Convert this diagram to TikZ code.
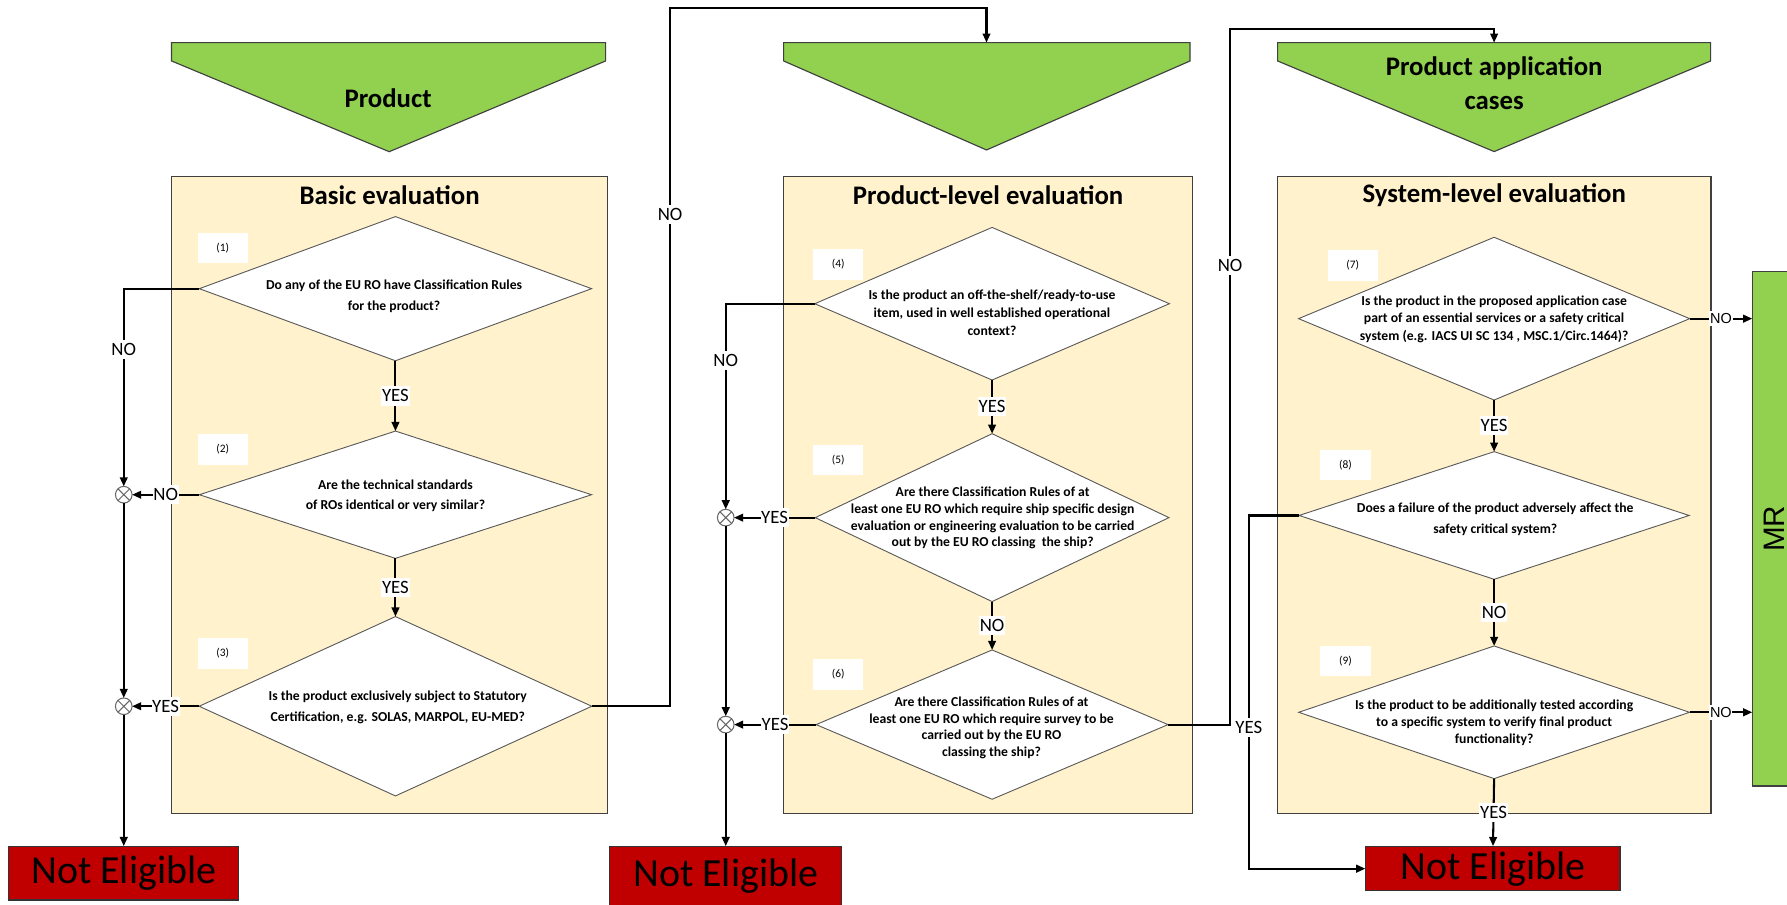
\documentclass[tikz,border=0pt]{standalone}
\usepackage{fontspec}
\setmainfont{Carlito}
\newfontfamily\arialf{Liberation Sans}
\usetikzlibrary{shapes.geometric,arrows.meta}
\definecolor{grn}{HTML}{92D050}
\definecolor{pan}{HTML}{FFF2CC}
\definecolor{nered}{HTML}{C00000}
\begin{document}
\begin{tikzpicture}[x=1pt,y=-1pt,
  panel/.style={draw=black!75, fill=pan, line width=1pt, inner sep=0, outer sep=0},
  ptitle/.style={font=\bfseries\fontsize{23.5}{29}\selectfont, inner sep=0, align=center},
  dia/.style={diamond, draw=black!65, fill=white, line width=0.8pt, inner sep=0, outer sep=0},
  dtext/.style={font=\bfseries\fontsize{12}{15}\selectfont, align=center, inner sep=0},
  numbox/.style={fill=white, minimum width=44, minimum height=27, inner sep=0, font=\fontsize{10}{12}\selectfont},
  junc/.style={circle, draw=black!60, fill=white, line width=0.9pt, minimum size=14.6, inner sep=0, outer sep=0},
  nebox/.style={draw=black!80, fill=nered, line width=1pt, inner sep=0, font=\fontsize{35}{40}\selectfont},
  conn/.style={line width=1.8pt, -{Triangle[length=8pt,width=6.7pt]}},
  lbl/.style={fill=white, inner xsep=0.6pt, inner ysep=3pt, font=\fontsize{16.5}{18}\selectfont},
  mrlbl/.style={fill=white, inner xsep=0.6pt, inner ysep=2pt, font=\arialf\fontsize{12.7}{14}\selectfont},
  tri/.style={draw=black!75, fill=grn, line width=1pt},
]
\useasboundingbox (0,0) rectangle (1568,794);

% panels
\node[panel, minimum width=382.7, minimum height=558.6] (P1) at (341.85,434.3) {};
\node[panel, minimum width=358.4, minimum height=558.6] (P2) at (867,434.3) {};
\node[panel, minimum width=380.3, minimum height=558.6] (P3) at (1311.15,434.3) {};
\node[ptitle] (P1t) at (341.85,171.5) {Basic evaluation};
\node[ptitle] (P2t) at (867,171.5) {Product-level evaluation};
\node[ptitle] (P3t) at (1311.15,171.5) {System-level evaluation};

% triangles
\draw[tri] (150.5,37.4) -- (531.4,37.4) -- (531.4,53.5) -- (341.5,133.1) -- (150.5,53.5) -- cycle;
\draw[tri] (687.6,37.4) -- (1044.2,37.4) -- (1044.2,53.5) -- (865.6,131.6) -- (687.6,53.5) -- cycle;
\draw[tri] (1121,37.4) -- (1501,37.4) -- (1501,53.5) -- (1311,133) -- (1121,53.5) -- cycle;
\coordinate (T2top) at (865.6,37.4);
\coordinate (T3top) at (1311,37.4);
\node[ptitle] (T1t) at (340.5,86) {Product};
\node[ptitle] (T3t) at (1311,73) {Product application\\cases};

% diamonds
\node[dia, minimum width=344.2, minimum height=126.5] (D1) at (347,253.3) {};
\node[dia, minimum width=344.2, minimum height=111.7] (D2) at (347,434.1) {};
\node[dia, minimum width=344.5, minimum height=157.4] (D3) at (347,619.7) {};
\node[dia, minimum width=311.2, minimum height=133.9] (D4) at (870.5,266.5) {};
\node[dia, minimum width=310.4, minimum height=147.3] (D5) at (870.5,454.2) {};
\node[dia, minimum width=308.8, minimum height=131] (D6) at (870.5,635.8) {};
\node[dia, minimum width=343.2, minimum height=142.8] (D7) at (1311,279.6) {};
\node[dia, minimum width=342.2, minimum height=112] (D8) at (1311,452.3) {};
\node[dia, minimum width=342.9, minimum height=116.4] (D9) at (1311,625) {};

% diamond texts
\node[dtext, font=\bfseries\fontsize{12}{18.3}\selectfont] (t1) at (345.8,260) {Do any of the EU RO have Classification Rules\\for the product?};
\node[dtext, font=\bfseries\fontsize{12}{17.6}\selectfont] (t2) at (347,435.2) {Are the technical standards\\of ROs identical or very similar?};
\node[dtext, font=\bfseries\fontsize{12}{18.5}\selectfont] (t3) at (349,621) {Is the product exclusively subject to Statutory\\Certification, e.g. SOLAS, MARPOL, EU-MED?};
\node[dtext, font=\bfseries\fontsize{12}{15.8}\selectfont] (t4) at (870.4,274) {Is the product an off-the-shelf/ready-to-use\\item, used in well established operational\\context?};
\node[dtext, font=\bfseries\fontsize{12}{14.8}\selectfont] (t5) at (871,454.5) {Are there Classification Rules of at\\least one EU RO which require ship specific design\\evaluation or engineering evaluation to be carried\\out by the EU RO classing\ \ the ship?};
\node[dtext, font=\bfseries\fontsize{12}{14.6}\selectfont] (t6) at (870,638.6) {Are there Classification Rules of at\\least one EU RO which require survey to be\\carried out by the EU RO\\classing the ship?};
\node[dtext, font=\bfseries\fontsize{12}{15.3}\selectfont] (t7) at (1311,280) {Is the product in the proposed application case\\part of an essential services or a safety critical\\system (e.g. IACS UI SC 134 , MSC.1/Circ.1464)?};
\node[dtext, font=\bfseries\fontsize{12}{18.4}\selectfont] (t8) at (1312,455.8) {Does a failure of the product adversely affect the\\safety critical system?};
\node[dtext, font=\bfseries\fontsize{12}{15}\selectfont] (t9) at (1311,634.2) {Is the product to be additionally tested according\\to a specific system to verify final product\\functionality?};

% number boxes
\node[numbox] (n1) at (195.5,217.7) {(1)};
\node[numbox] (n2) at (195.5,394.2) {(2)};
\node[numbox] (n3) at (195.5,573.5) {(3)};
\node[numbox] (n4) at (735.5,232) {(4)};
\node[numbox] (n5) at (735.5,403.7) {(5)};
\node[numbox] (n6) at (735.5,591.5) {(6)};
\node[numbox] (n7) at (1187,233) {(7)};
\node[numbox] (n8) at (1180.6,408) {(8)};
\node[numbox] (n9) at (1180.6,580) {(9)};

% junctions
\node[junc] (C1) at (108.6,434.1) {};
\node[junc] (C2) at (108.6,619.7) {};
\node[junc] (C3) at (636.8,454.2) {};
\node[junc] (C4) at (636.8,635.8) {};
\foreach \c in {C1,C2,C3,C4}
  \draw[black!60, line width=0.9pt] (\c.north west) -- (\c.south east) (\c.north east) -- (\c.south west);

% outcome boxes
\node[nebox, minimum width=201.6, minimum height=46.8] (NE1) at (108.6,766.3) {Not Eligible};
\node[nebox, minimum width=203.8, minimum height=52.2] (NE2) at (636.8,769) {Not Eligible};
\node[nebox, minimum width=223, minimum height=38.6] (NE3) at (1310,762.2) {Not Eligible};
\node[draw=black!75, fill=grn, line width=1pt, minimum width=38.5, minimum height=451.3, inner sep=0, outer sep=0] (MR) at (1556.75,464) {};
\node[rotate=90, font=\arialf\fontsize{26}{30}\selectfont, inner sep=0] (MRt) at (MR.center) {MR};

% routing points
\coordinate (k1) at (588,7.3);
\coordinate (k2) at (1079.3,25.7);
\coordinate (k3) at (1095.7,762.2);

% connectors
\draw[conn] (D1.west) -| node[lbl,pos=0.654]{NO} (C1.north);
\draw[conn] (D2.west) -- node[lbl]{NO} (C1.east);
\draw[conn] (C1.south) -- (C2.north);
\draw[conn] (D3.west) -- node[lbl]{YES} (C2.east);
\draw[conn] (C2.south) -- (NE1.north);
\draw[conn] (D3.east) -| node[lbl,pos=0.852]{NO} (k1) -| (T2top);

\draw[conn] (D4.west) -| node[lbl,pos=0.638]{NO} (C3.north);
\draw[conn] (D5.west) -- node[lbl]{YES} (C3.east);
\draw[conn] (C3.south) -- (C4.north);
\draw[conn] (D6.west) -- node[lbl]{YES} (C4.east);
\draw[conn] (C4.south) -- (NE2.north);
\draw[conn] (D6.east) -| node[lbl,pos=0.83]{NO} (k2) -| (T3top);
\draw[conn] (D8.west) -| node[lbl,pos=0.80]{YES} (k3) -- (NE3.west);

\draw[conn] (D1.south) -- node[lbl]{YES} (D2.north);
\draw[conn] (D2.south) -- node[lbl]{YES} (D3.north);
\draw[conn] (D4.south) -- node[lbl]{YES} (D5.north);
\draw[conn] (D5.south) -- node[lbl]{NO} (D6.north);
\draw[conn] (D7.south) -- node[lbl]{YES} (D8.north);
\draw[conn] (D8.south) -- node[lbl]{NO} (D9.north);
\draw[conn] (D9.south) -- node[lbl]{YES} (NE3.north);
\draw[conn] (D7.east) -- node[mrlbl]{NO} (D7.east -| MR.west);
\draw[conn] (D9.east) -- node[mrlbl]{NO} (D9.east -| MR.west);
\end{tikzpicture}
\end{document}
